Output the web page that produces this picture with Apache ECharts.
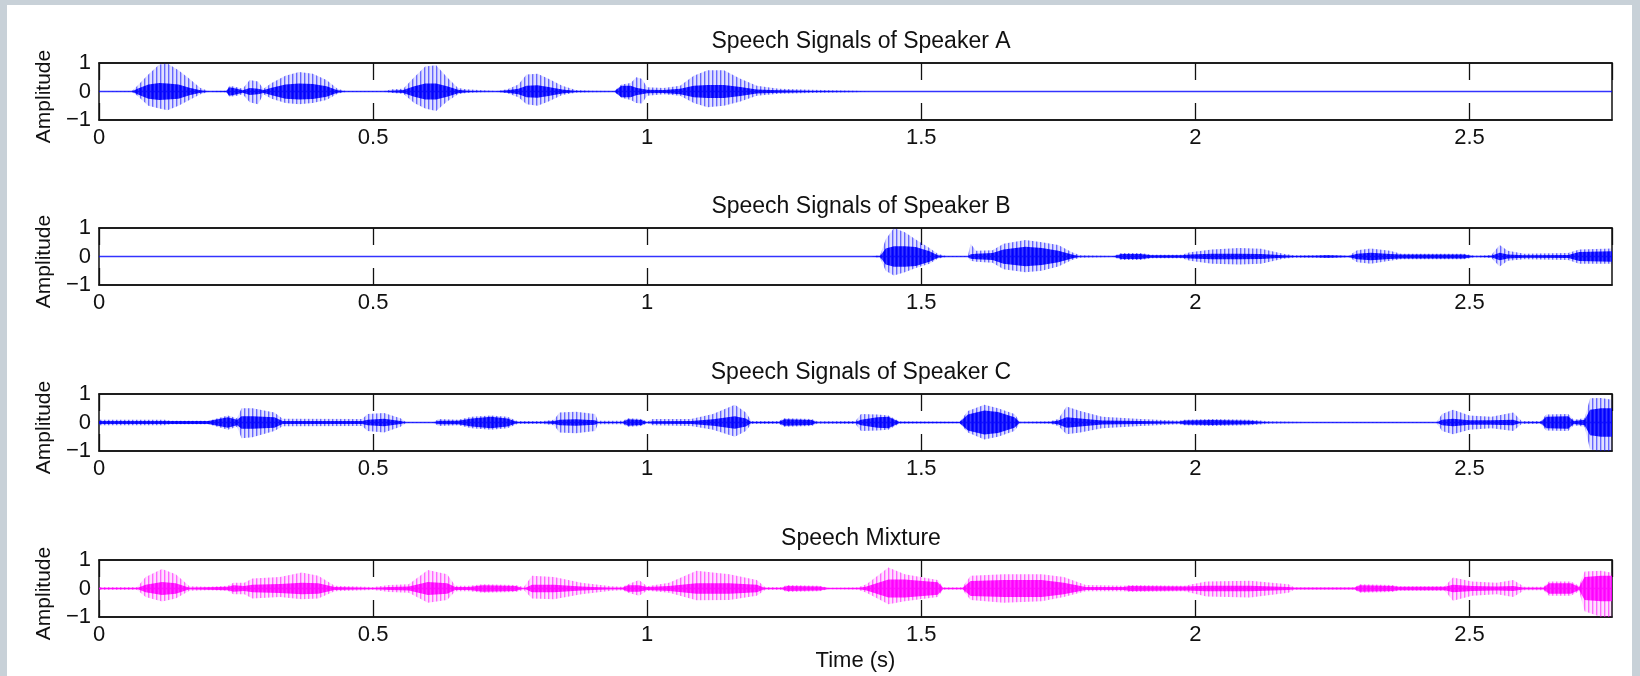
<!DOCTYPE html>
<html>
<head>
<meta charset="utf-8">
<title>Speech Signals</title>
<script src="https://cdn.jsdelivr.net/npm/echarts@6/dist/echarts.min.js"></script>
<style>
  html, body { margin: 0; padding: 0; background: #c8d1d8; }
  #paper { position: absolute; left: 7px; top: 5px; right: 8px; bottom: 0; background: #fff; }
  #chart { position: absolute; left: 0; top: 0; width: 1640px; height: 676px; }
</style>
</head>
<body>
<div id="paper"></div>
<div id="chart"></div>
<script>
// envelope rows: [time (s), peak up, peak down, dense core half-width]
var speakerA = [
  [0, 0, 0, 0], [0.06, 0.02, -0.02, 0], [0.07, 0.2, -0.15, 0.1], [0.09, 0.6, -0.5, 0.25],
  [0.11, 0.95, -0.6, 0.3], [0.125, 0.98, -0.66, 0.28], [0.145, 0.75, -0.5, 0.25], [0.165, 0.45, -0.3, 0.13],
  [0.185, 0.12, -0.1, 0.04], [0.2, 0.02, -0.02, 0], [0.232, 0.03, -0.03, 0.02], [0.238, 0.2, -0.18, 0.15],
  [0.252, 0.15, -0.15, 0.1], [0.262, 0.1, -0.1, 0.04], [0.275, 0.4, -0.38, 0.12], [0.29, 0.35, -0.45, 0.1],
  [0.3, 0.1, -0.1, 0.05], [0.315, 0.3, -0.25, 0.13], [0.34, 0.55, -0.4, 0.25], [0.365, 0.68, -0.45, 0.28],
  [0.39, 0.62, -0.4, 0.26], [0.415, 0.4, -0.3, 0.18], [0.435, 0.1, -0.08, 0.04], [0.45, 0.02, -0.02, 0],
  [0.52, 0.02, -0.02, 0], [0.535, 0.08, -0.05, 0.03], [0.555, 0.1, -0.08, 0.05], [0.575, 0.5, -0.4, 0.18],
  [0.595, 0.88, -0.6, 0.28], [0.615, 0.92, -0.68, 0.28], [0.635, 0.5, -0.35, 0.18], [0.655, 0.12, -0.1, 0.06],
  [0.67, 0.08, -0.05, 0.03], [0.7, 0.04, -0.03, 0], [0.725, 0.02, -0.02, 0], [0.745, 0.08, -0.06, 0.04],
  [0.765, 0.25, -0.2, 0.1], [0.78, 0.6, -0.45, 0.2], [0.8, 0.62, -0.5, 0.22], [0.82, 0.45, -0.35, 0.16],
  [0.845, 0.2, -0.12, 0.07], [0.87, 0.05, -0.04, 0.02], [0.9, 0.03, -0.03, 0], [0.94, 0.02, -0.02, 0],
  [0.953, 0.25, -0.22, 0.2], [0.97, 0.3, -0.3, 0.2], [0.98, 0.5, -0.4, 0.13], [0.99, 0.45, -0.42, 0.1],
  [1.0, 0.15, -0.15, 0.06], [1.03, 0.12, -0.1, 0.05], [1.06, 0.2, -0.15, 0.1], [1.085, 0.55, -0.4, 0.2],
  [1.11, 0.75, -0.55, 0.23], [1.14, 0.75, -0.5, 0.23], [1.17, 0.45, -0.35, 0.16], [1.2, 0.2, -0.15, 0.07],
  [1.24, 0.1, -0.08, 0.04], [1.3, 0.06, -0.05, 0.02], [1.38, 0.03, -0.03, 0], [1.41, 0, 0, 0], [2.76, 0, 0, 0]
];
var speakerB = [
  [0, 0, 0, 0], [1.41, 0, 0, 0], [1.425, 0.05, -0.05, 0.02], [1.435, 0.6, -0.5, 0.28],
  [1.45, 1.0, -0.67, 0.36], [1.47, 0.85, -0.55, 0.36], [1.49, 0.6, -0.4, 0.33], [1.515, 0.3, -0.25, 0.18],
  [1.53, 0.1, -0.08, 0.04], [1.545, 0.02, -0.02, 0], [1.585, 0.02, -0.02, 0], [1.59, 0.45, -0.15, 0.08],
  [1.6, 0.2, -0.18, 0.1], [1.63, 0.22, -0.22, 0.12], [1.65, 0.45, -0.45, 0.25], [1.69, 0.58, -0.55, 0.34],
  [1.72, 0.5, -0.5, 0.3], [1.75, 0.4, -0.35, 0.2], [1.775, 0.15, -0.12, 0.07], [1.79, 0.04, -0.04, 0],
  [1.85, 0.02, -0.02, 0], [1.865, 0.12, -0.12, 0.09], [1.9, 0.12, -0.12, 0.09], [1.92, 0.06, -0.06, 0.04],
  [1.975, 0.06, -0.06, 0.04], [1.99, 0.15, -0.15, 0.07], [2.03, 0.25, -0.25, 0.1], [2.08, 0.3, -0.28, 0.1],
  [2.12, 0.27, -0.25, 0.09], [2.16, 0.1, -0.08, 0.04], [2.18, 0.04, -0.04, 0.02], [2.22, 0.04, -0.04, 0.03],
  [2.24, 0.05, -0.05, 0.04], [2.28, 0.03, -0.03, 0.02], [2.295, 0.22, -0.2, 0.1], [2.32, 0.28, -0.25, 0.13],
  [2.355, 0.2, -0.15, 0.09], [2.375, 0.1, -0.1, 0.07], [2.49, 0.1, -0.1, 0.07], [2.51, 0.03, -0.03, 0],
  [2.54, 0.05, -0.05, 0.03], [2.555, 0.4, -0.35, 0.13], [2.57, 0.2, -0.15, 0.07], [2.6, 0.1, -0.1, 0.04],
  [2.68, 0.12, -0.12, 0.05], [2.7, 0.25, -0.25, 0.16], [2.76, 0.28, -0.25, 0.18]
];
var speakerC = [
  [0, 0.1, -0.1, 0.05], [0.12, 0.1, -0.1, 0.05], [0.13, 0.06, -0.06, 0.05], [0.2, 0.06, -0.06, 0.05],
  [0.235, 0.25, -0.25, 0.18], [0.252, 0.15, -0.15, 0.1], [0.26, 0.5, -0.55, 0.22], [0.28, 0.5, -0.52, 0.22],
  [0.32, 0.35, -0.3, 0.18], [0.335, 0.13, -0.13, 0.05], [0.48, 0.12, -0.12, 0.05], [0.49, 0.3, -0.3, 0.1],
  [0.52, 0.33, -0.35, 0.13], [0.55, 0.15, -0.15, 0.05], [0.56, 0.02, -0.02, 0], [0.61, 0.02, -0.02, 0],
  [0.62, 0.12, -0.12, 0.06], [0.655, 0.1, -0.1, 0.06], [0.68, 0.2, -0.2, 0.14], [0.715, 0.25, -0.25, 0.2],
  [0.745, 0.2, -0.2, 0.14], [0.763, 0.05, -0.05, 0.02], [0.81, 0.05, -0.05, 0.02], [0.83, 0.1, -0.1, 0.05],
  [0.84, 0.35, -0.35, 0.1], [0.87, 0.38, -0.38, 0.11], [0.905, 0.3, -0.3, 0.08], [0.91, 0.06, -0.06, 0.02],
  [0.955, 0.06, -0.06, 0.02], [0.965, 0.15, -0.15, 0.11], [0.99, 0.12, -0.12, 0.09], [1.0, 0.03, -0.03, 0],
  [1.01, 0.12, -0.1, 0.04], [1.08, 0.12, -0.12, 0.05], [1.12, 0.3, -0.25, 0.11], [1.16, 0.62, -0.5, 0.22],
  [1.18, 0.35, -0.3, 0.14], [1.19, 0.05, -0.05, 0.02], [1.24, 0.05, -0.05, 0.02], [1.25, 0.15, -0.15, 0.11],
  [1.3, 0.12, -0.12, 0.09], [1.31, 0.04, -0.04, 0], [1.38, 0.05, -0.05, 0.02], [1.39, 0.3, -0.3, 0.1],
  [1.42, 0.28, -0.28, 0.18], [1.44, 0.25, -0.25, 0.2], [1.46, 0.04, -0.04, 0.02], [1.57, 0.03, -0.03, 0.02],
  [1.585, 0.4, -0.35, 0.28], [1.615, 0.62, -0.6, 0.42], [1.64, 0.5, -0.5, 0.37], [1.67, 0.3, -0.3, 0.18],
  [1.68, 0.03, -0.03, 0], [1.735, 0.04, -0.04, 0.02], [1.75, 0.12, -0.12, 0.07], [1.765, 0.56, -0.41, 0.18],
  [1.79, 0.4, -0.35, 0.14], [1.83, 0.2, -0.2, 0.07], [1.9, 0.12, -0.12, 0.05], [1.97, 0.06, -0.06, 0.03],
  [1.98, 0.1, -0.1, 0.07], [2.03, 0.12, -0.12, 0.09], [2.1, 0.1, -0.1, 0.06], [2.135, 0.04, -0.04, 0],
  [2.2, 0.02, -0.02, 0], [2.44, 0.02, -0.02, 0], [2.45, 0.3, -0.3, 0.1], [2.47, 0.45, -0.41, 0.13],
  [2.5, 0.25, -0.25, 0.08], [2.54, 0.2, -0.2, 0.08], [2.58, 0.35, -0.3, 0.1], [2.595, 0.05, -0.05, 0],
  [2.63, 0.05, -0.05, 0.02], [2.64, 0.28, -0.28, 0.2], [2.68, 0.3, -0.3, 0.22], [2.69, 0.1, -0.1, 0.05],
  [2.71, 0.15, -0.15, 0.1], [2.72, 0.85, -0.95, 0.45], [2.74, 0.86, -1.0, 0.5], [2.76, 0.8, -1.0, 0.5]
];
var mixture = [
  [0, 0.05, -0.05, 0.02], [0.07, 0.05, -0.05, 0.02], [0.085, 0.4, -0.3, 0.13], [0.115, 0.68, -0.46, 0.23],
  [0.14, 0.5, -0.35, 0.18], [0.165, 0.08, -0.08, 0.03], [0.2, 0.06, -0.06, 0.04], [0.235, 0.1, -0.08, 0.06],
  [0.245, 0.2, -0.2, 0.11], [0.265, 0.2, -0.2, 0.09], [0.28, 0.35, -0.35, 0.13], [0.33, 0.4, -0.3, 0.16],
  [0.37, 0.56, -0.38, 0.2], [0.4, 0.45, -0.35, 0.18], [0.43, 0.1, -0.1, 0.05], [0.5, 0.05, -0.05, 0.02],
  [0.53, 0.12, -0.12, 0.05], [0.565, 0.15, -0.15, 0.07], [0.6, 0.65, -0.5, 0.23], [0.635, 0.5, -0.4, 0.18],
  [0.65, 0.1, -0.1, 0.05], [0.675, 0.1, -0.1, 0.05], [0.7, 0.15, -0.15, 0.11], [0.76, 0.12, -0.12, 0.09],
  [0.775, 0.05, -0.05, 0], [0.79, 0.45, -0.35, 0.13], [0.83, 0.4, -0.38, 0.13], [0.88, 0.2, -0.2, 0.07],
  [0.935, 0.08, -0.08, 0.03], [0.955, 0.06, -0.06, 0.03], [0.965, 0.15, -0.15, 0.11], [0.985, 0.3, -0.25, 0.11],
  [1.0, 0.08, -0.08, 0.05], [1.04, 0.2, -0.15, 0.09], [1.09, 0.62, -0.41, 0.18], [1.15, 0.5, -0.4, 0.18],
  [1.2, 0.3, -0.25, 0.13], [1.215, 0.05, -0.05, 0.02], [1.245, 0.05, -0.05, 0.02], [1.255, 0.12, -0.12, 0.09],
  [1.315, 0.1, -0.1, 0.07], [1.33, 0.03, -0.03, 0.02], [1.385, 0.04, -0.04, 0.02], [1.4, 0.15, -0.15, 0.07],
  [1.44, 0.74, -0.55, 0.32], [1.47, 0.5, -0.45, 0.32], [1.53, 0.3, -0.3, 0.22], [1.54, 0.04, -0.04, 0.02],
  [1.575, 0.04, -0.04, 0.02], [1.59, 0.45, -0.4, 0.26], [1.65, 0.5, -0.5, 0.3], [1.72, 0.5, -0.45, 0.3],
  [1.76, 0.4, -0.3, 0.2], [1.8, 0.12, -0.1, 0.05], [1.87, 0.1, -0.1, 0.05], [1.88, 0.12, -0.12, 0.09],
  [1.98, 0.1, -0.1, 0.07], [2.02, 0.25, -0.28, 0.1], [2.1, 0.27, -0.32, 0.1], [2.17, 0.15, -0.15, 0.05],
  [2.18, 0.04, -0.04, 0.03], [2.29, 0.04, -0.04, 0.03], [2.3, 0.15, -0.15, 0.11], [2.36, 0.12, -0.12, 0.09],
  [2.37, 0.08, -0.08, 0.06], [2.455, 0.08, -0.08, 0.06], [2.47, 0.39, -0.43, 0.13], [2.505, 0.25, -0.25, 0.09],
  [2.55, 0.2, -0.2, 0.07], [2.58, 0.3, -0.3, 0.09], [2.6, 0.06, -0.06, 0.03], [2.635, 0.06, -0.06, 0.03],
  [2.645, 0.25, -0.25, 0.18], [2.685, 0.25, -0.25, 0.18], [2.7, 0.1, -0.1, 0.05], [2.71, 0.6, -0.8, 0.4],
  [2.74, 0.62, -1.0, 0.45], [2.76, 0.55, -1.0, 0.45]
];

var titles = ["Speech Signals of Speaker A", "Speech Signals of Speaker B", "Speech Signals of Speaker C", "Speech Mixture"];
var signals = [speakerA, speakerB, speakerC, mixture];
var colors = ["#0000ff", "#0000ff", "#0000ff", "#ff00ff"];
var xMax = 2.76;
var tickStep = 0.5;

var FONT = "Liberation Sans, Arial, Helvetica, sans-serif";
var gridTops = [63, 228, 394, 560];
var plotH = 57;

// vertical stripes so the envelopes look like pitch spikes
function stripes(hex, alphas) {
  var c = document.createElement("canvas");
  c.width = alphas.length; c.height = 4;
  var ctx = c.getContext("2d");
  var r = parseInt(hex.substr(1, 2), 16), g = parseInt(hex.substr(3, 2), 16), b = parseInt(hex.substr(5, 2), 16);
  for (var i = 0; i < alphas.length; i++) {
    ctx.fillStyle = "rgba(" + r + "," + g + "," + b + "," + alphas[i] + ")";
    ctx.fillRect(i, 0, 1, 4);
  }
  return { image: c, repeat: "repeat" };
}

function col(rows, k) {
  return rows.map(function (r) { return [r[0], k === 4 ? -r[3] : r[k]]; });
}

function ticks() {
  return { show: true, inside: true, length: 17, lineStyle: { color: "#111", width: 1.3 } };
}

var myChart = echarts.init(document.getElementById("chart"));

var grid = [], xAxis = [], yAxis = [], series = [], title = [];
for (var i = 0; i < 4; i++) {
  grid.push({
    left: 99, right: 28, top: gridTops[i], height: plotH,
    show: true, borderColor: "#111", borderWidth: 1.5, backgroundColor: "transparent"
  });
  title.push({
    text: titles[i], left: 856, top: gridTops[i] - 38, textAlign: "center",
    textStyle: { fontFamily: FONT, fontSize: 23, fontWeight: "normal", color: "#111" }
  });
  xAxis.push({
    gridIndex: i, type: "value", min: 0, max: xMax, interval: tickStep, position: "bottom",
    axisLine: { show: true, onZero: false, lineStyle: { color: "#111", width: 1.5 } },
    splitLine: { show: false }, axisTick: ticks(),
    axisLabel: {
      show: true, showMaxLabel: false, margin: 7, color: "#111", fontFamily: FONT, fontSize: 22,
      formatter: function (v) { return Math.abs(v / tickStep - Math.round(v / tickStep)) < 1e-6 ? String(v) : ""; }
    },
    name: i === 3 ? "Time (s)" : "", nameLocation: "middle", nameGap: 33,
    nameTextStyle: { fontFamily: FONT, fontSize: 22, color: "#111" }
  });
  xAxis.push({
    gridIndex: i, type: "value", min: 0, max: xMax, interval: tickStep, position: "top",
    axisLine: { show: true, onZero: false, lineStyle: { color: "#111", width: 1.5 } },
    splitLine: { show: false }, axisTick: ticks(), axisLabel: { show: false }
  });
  yAxis.push({
    gridIndex: i, type: "value", min: -1, max: 1, interval: 1,
    axisLine: { show: false }, axisTick: { show: false }, splitLine: { show: false },
    axisLabel: {
      margin: 8, color: "#111", fontFamily: FONT, fontSize: 22,
      formatter: function (v) { return v < 0 ? "\u22121" : String(v); }
    },
    name: "Amplitude", nameLocation: "middle", nameGap: 37, nameRotate: 90,
    nameTextStyle: { fontFamily: FONT, fontSize: 21, color: "#111", padding: [0, 10, 0, 0] }
  });

  var rows = signals[i], c = colors[i];
  var outer = stripes(c, [0.6, 0.3, 0.12, 0.12]);
  var core = stripes(c, [1, 0.9, 0.75, 0.9]);
  var base = { type: "line", xAxisIndex: 2 * i, yAxisIndex: i, symbol: "none", silent: true, animation: false };
  series.push(Object.assign({}, base, { data: col(rows, 1), lineStyle: { width: 0 }, areaStyle: { color: outer, opacity: 1, origin: "auto" } }));
  series.push(Object.assign({}, base, { data: col(rows, 2), lineStyle: { width: 0 }, areaStyle: { color: outer, opacity: 1, origin: "auto" } }));
  series.push(Object.assign({}, base, { data: col(rows, 3), lineStyle: { width: 0 }, areaStyle: { color: core, opacity: 1, origin: "auto" } }));
  series.push(Object.assign({}, base, { data: col(rows, 4), lineStyle: { width: 0 }, areaStyle: { color: core, opacity: 1, origin: "auto" } }));
  // zero baseline drawn by the plot
  series.push(Object.assign({}, base, { data: [[0, 0], [xMax, 0]], lineStyle: { color: c, width: 1.3, opacity: 0.8 } }));
}

var option = {
  animation: false,
  backgroundColor: "transparent",
  title: title,
  grid: grid,
  xAxis: xAxis,
  yAxis: yAxis,
  series: series
};

myChart.setOption(option);
</script>
</body>
</html>
